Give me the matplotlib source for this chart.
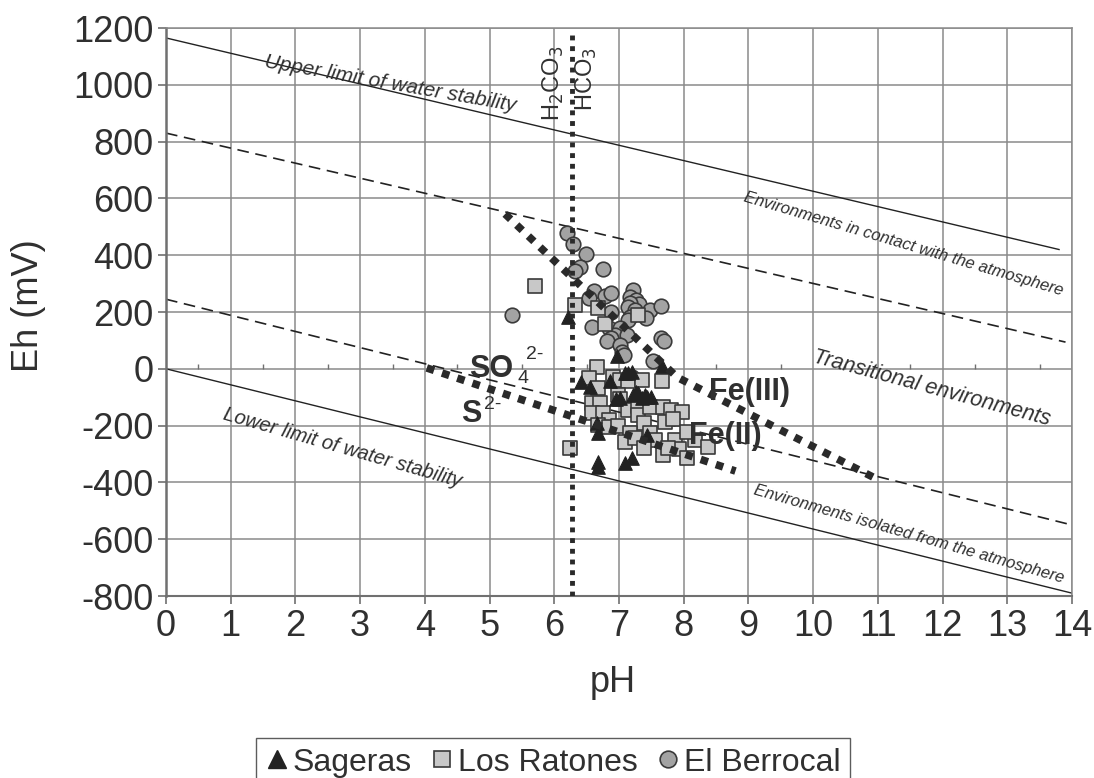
import matplotlib
matplotlib.use("Agg")
import matplotlib.pyplot as plt
from matplotlib.lines import Line2D
from matplotlib import font_manager as fm

# ---------------- data ----------------
berrocal_ph = [5.35, 6.19, 6.29, 6.49, 6.39, 6.32, 6.76, 6.61, 6.54, 6.78, 6.88, 7.21, 7.17,
               7.27, 7.31, 7.17, 7.14, 7.25, 6.87, 7.48, 7.65, 7.42, 7.17, 7.14, 6.58, 6.85,
               7.02, 6.94, 7.12, 6.87, 6.81, 7.02, 7.04, 7.07, 7.65, 7.70, 7.52, 7.20]
berrocal_eh = [190, 477, 440, 404, 357, 345, 350, 275, 248, 256, 266, 277, 254,
               242, 228, 231, 217, 207, 200, 207, 221, 178, 182, 172, 148, 143,
               143, 119, 119, 107, 99, 84, 60, 49, 107, 99, 29, -28]

ratones_ph = [5.70, 6.32, 6.67, 6.78, 7.30, 6.66, 6.54, 6.68, 6.90, 7.02, 7.14, 7.35, 7.67,
              6.98, 7.02, 6.58, 6.71, 6.58, 6.76, 6.84, 6.68, 6.84, 6.98, 7.14, 7.30, 7.30,
              7.48, 7.68, 7.81, 7.98, 7.38, 7.71, 7.84, 7.17, 7.09, 7.25, 7.48, 7.56, 7.38,
              7.68, 7.87, 7.93, 8.05, 8.18, 8.38, 8.05, 7.75, 6.25]
ratones_eh = [290, 225, 213, 158, 190, 8, -33, -69, -30, -39, -42, -39, -42,
              -92, -107, -121, -119, -157, -155, -180, -198, -204, -201, -145, -131, -163,
              -133, -133, -145, -151, -192, -186, -178, -225, -257, -245, -227, -251, -280,
              -303, -251, -283, -315, -251, -276, -221, -280, -280]

sageras_ph = [6.21, 6.42, 6.55, 7.09, 7.14, 7.20, 7.27, 7.43, 7.22, 7.01, 7.35, 6.86, 6.68,
              6.68, 6.68, 7.09, 7.20, 7.66, 6.97, 7.30, 7.40, 7.50, 6.66, 7.43, 6.96]
sageras_eh = [184, -45, -63, -16, -16, -12, -81, -98, -92, -104, -104, -42, -225,
              -345, -328, -333, -315, 10, 45, -86, -92, -98, -192, -233, -107]

# reference lines (pH, Eh points)
upper_ph, upper_eh = [0, 13.8], [1165, 420]
atm_ph, atm_eh = [0, 13.9], [830, 94]
iso_ph, iso_eh = [0, 14.0], [245, -550]
lower_ph, lower_eh = [0, 14.0], [0, -790]
fe_ph, fe_eh = [5.24, 7.9, 11.0], [545, -30, -390]
s_ph, s_eh = [4.03, 8.8], [3, -360]
carb_ph, carb_eh = [6.27, 6.27], [-800, 1175]

x_ticks = list(range(0, 15))
y_ticks = list(range(-800, 1201, 200))
minor_ph = [i + 0.5 for i in range(14)]

# ---------------- figure ----------------
W, H = 1094, 778
plt.rcParams['font.family'] = ['Liberation Sans', 'DejaVu Sans']
plt.rcParams['axes.unicode_minus'] = False
fig = plt.figure(figsize=(W / 100, H / 100), dpi=100)
TXT = '#303030'
ax = fig.add_axes([166 / W, 1 - 596 / H, (1072 - 166) / W, (596 - 28) / H])
ax.set_xlim(0, 14)
ax.set_ylim(-800, 1200)
ax.set_xticks(x_ticks)
ax.set_yticks(y_ticks)
ax.grid(True, color='#8a8a8a', lw=1.1, zorder=0)
ax.set_axisbelow(True)
for s in ax.spines.values():
    s.set_color('#8a8a8a')
    s.set_linewidth(1.1)
ax.spines['left'].set_color('#707070')
ax.spines['left'].set_linewidth(1.8)
ax.spines['bottom'].set_color('#707070')
ax.spines['bottom'].set_linewidth(1.5)
ax.tick_params(axis='both', labelsize=26, colors='#707070', labelcolor=TXT,
               length=6, width=1.2, pad=3)

# minor ticks along Eh = 0
ax.vlines(minor_ph, 0, 18, color='#707070', lw=1.0, zorder=1)

# lines
ax.plot(upper_ph, upper_eh, color='#222222', lw=1.0, zorder=2)
ax.plot(lower_ph, lower_eh, color='#222222', lw=1.0, zorder=2)
ax.plot(atm_ph, atm_eh, color='#222222', lw=1.2, ls=(0, (7, 4)), zorder=2)
ax.plot(iso_ph, iso_eh, color='#222222', lw=1.2, ls=(0, (7, 4)), zorder=2)

# markers
ax.scatter(berrocal_ph, berrocal_eh, s=110, marker='o', facecolor='#a3a3a3',
           edgecolor='#3a3a3a', linewidth=1.2, zorder=3)
ax.scatter(ratones_ph, ratones_eh, s=95, marker='s', facecolor='#c8c8c8',
           edgecolor='#3a3a3a', linewidth=1.2, zorder=4)
ax.scatter(sageras_ph, sageras_eh, s=95, marker='^', facecolor='#222222',
           edgecolor='#222222', linewidth=0.8, zorder=5)

# thick dotted lines
ax.plot(fe_ph, fe_eh, color='#2a2a2a', lw=5.5, ls=(0, (1, 1.1)), zorder=6)
ax.plot(s_ph, s_eh, color='#2a2a2a', lw=5.5, ls=(0, (1, 1.1)), zorder=6)
ax.plot(carb_ph, carb_eh, color='#2a2a2a', lw=3.5, ls=(0, (1, 1.2)), zorder=6)

# ---------------- texts ----------------
def ftext(x, y, s, **kw):
    fig.text(x / W, 1 - y / H, s, **kw)

avail = {f.name for f in fm.fontManager.ttflist}
if 'Liberation Sans Narrow' in avail:
    NARROW, k = ['Liberation Sans Narrow', 'DejaVu Sans'], 1.2
else:
    NARROW, k = ['Liberation Sans', 'DejaVu Sans'], 1.0

common = dict(style='italic', family=NARROW, color=TXT, ha='center', va='center',
              rotation_mode='anchor')
ftext(390, 84, 'Upper limit of water stability', fontsize=15 * k, rotation=-10, **common)
ftext(903, 244, 'Environments in contact with the atmosphere', fontsize=12 * k,
      rotation=-16.5, **common)
ftext(932, 388, 'Transitional environments', fontsize=15.5 * k, rotation=-15, **common)
ftext(342, 448, 'Lower limit of water stability', fontsize=14.5 * k, rotation=-16, **common)
ftext(909, 534, 'Environments isolated from the atmosphere', fontsize=12 * k,
      rotation=-16, **common)

# species labels
ftext(469, 377, 'SO', fontsize=22, fontweight='bold', color=TXT, ha='left', va='baseline')
ftext(517, 383, '4', fontsize=14, color=TXT, ha='left', va='baseline')
ftext(526, 359, '2-', fontsize=14, color=TXT, ha='left', va='baseline')
ftext(461, 422, 'S', fontsize=22, fontweight='bold', color=TXT, ha='left', va='baseline')
ftext(484, 409, '2-', fontsize=14, color=TXT, ha='left', va='baseline')
ftext(709, 400, 'Fe(III)', fontsize=22, fontweight='bold', color=TXT, ha='left', va='baseline')
ftext(689, 444, 'Fe(II)', fontsize=22, fontweight='bold', color=TXT, ha='left', va='baseline')

ftext(553, 83, r'H$_2$CO$_3$', fontsize=17, color=TXT, rotation=90, ha='center', va='center')
ftext(586, 79, r'HCO$_3$', fontsize=17, color=TXT, rotation=90, ha='center', va='center')

# axis labels
ftext(28, 306, 'Eh (mV)', fontsize=26, color=TXT, rotation=90, ha='center', va='center')
ftext(613, 683, 'pH', fontsize=26, color=TXT, ha='center', va='center')

# legend
handles = [
    Line2D([], [], ls='none', marker='^', ms=13, mfc='#222222', mec='#222222'),
    Line2D([], [], ls='none', marker='s', ms=12, mfc='#c8c8c8', mec='#3a3a3a', mew=1.2),
    Line2D([], [], ls='none', marker='o', ms=12, mfc='#a3a3a3', mec='#3a3a3a', mew=1.2),
]
leg = fig.legend(handles, ['Sageras', 'Los Ratones', 'El Berrocal'], loc='upper center',
                 bbox_to_anchor=(553 / W, 1 - 738 / H), borderaxespad=0, ncol=3,
                 fontsize=23, frameon=True, fancybox=False, edgecolor='#333333',
                 handlelength=0.7, handletextpad=0.15, columnspacing=0.6, borderpad=0.3,
                 labelcolor=TXT)
leg.get_frame().set_linewidth(1.0)

fig.savefig('out.png', dpi=100, facecolor='white')
